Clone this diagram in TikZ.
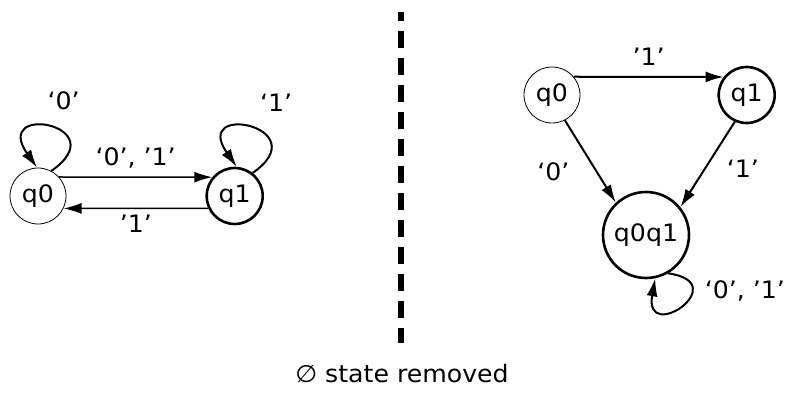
\documentclass[tikz,border=0pt]{standalone}
\usepackage{fontspec}
\setmainfont[FakeStretch=1.05]{DejaVu Sans}
\usetikzlibrary{arrows.meta, positioning}

\begin{document}
\begin{tikzpicture}[
  x=1pt, y=1pt,
  font=\fontsize{24}{28}\selectfont,
  state/.style   = {draw, circle, line width=0.8pt,
                    minimum size=56pt, inner sep=0pt},
  accept/.style  = {state, line width=2.6pt},
  arr/.style     = {-{Latex[length=18pt,width=11pt]}, line width=1.5pt},
  loopy/.style   = {arr, line width=2pt},
  lbl/.style     = {inner sep=1pt},
  divider/.style = {line width=6pt, dash pattern=on 17pt off 10pt,
                    dash phase=8pt},
]
\useasboundingbox (0,0) rectangle (787,-398);

%── Left: before ───────────────────────────────────────────────
\node[state]                      (l0) at (38,-196) {q0};
\node[accept, right=139pt of l0]  (l1) {q1};

\draw[arr] (l0.42)   -- node[lbl,above=7pt]{‘0’, ’1’} (l1.140);
\draw[arr] (l1.-155) -- node[lbl,below=5pt]{’1’}      (l0.-26);

\draw[loopy] (l0.62) to[out=35,in=125,distance=80pt]
  node[lbl,above=16pt,xshift=12pt]{‘0’} (l0.92);
\draw[loopy] (l1.52) to[out=35,in=125,distance=80pt]
  node[lbl,above=15pt,xshift=24pt]{‘1’} (l1.86);

%── Divider ────────────────────────────────────────────────────
\draw[divider] (401,-12) -- (401,-343);

%── Right: after ───────────────────────────────────────────────
\node[state]                      (r0)  at (552,-95) {q0};
\node[accept, right=137pt of r0]  (r1)  {q1};
\node[accept, minimum size=86pt]  (r01) at (646,-235) {q0q1};

\draw[loopy] (r0.40)   -- node[lbl,above=9pt]{’1’}               (r1.142);
\draw[loopy] (r0.-63)  -- node[lbl,pos=0.62,left=25pt]{‘0’}      (r01.133);
\draw[loopy] (r1.-114) -- node[lbl,pos=0.55,right=20pt]{‘1’}     (r01.39);

\draw[loopy] (r01.-60) to[out=-8,in=-100,distance=68pt]
  node[lbl,pos=0.3,right=10pt]{‘0’, ’1’} (r01.-78);

%── Caption ────────────────────────────────────────────────────
\node[anchor=base] (note) at (402,-382) {∅ state removed};

\end{tikzpicture}
\end{document}
